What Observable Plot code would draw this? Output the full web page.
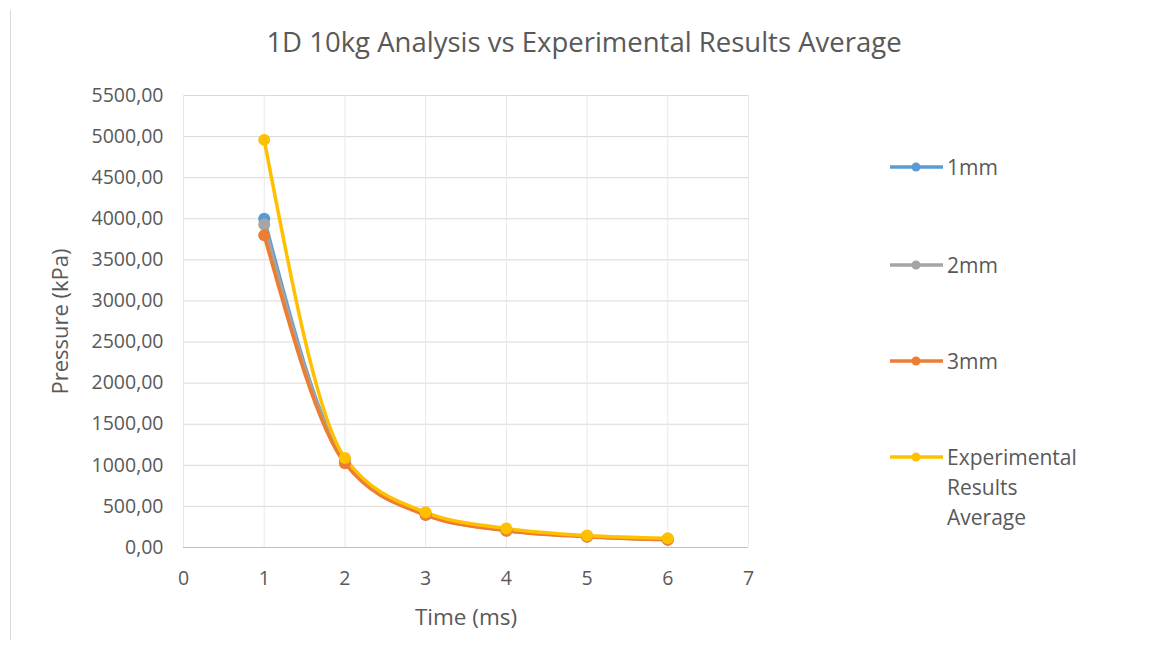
<!DOCTYPE html>
<html>
<head>
<meta charset="utf-8">
<script src="https://cdn.jsdelivr.net/npm/d3@7"></script>
<script src="https://cdn.jsdelivr.net/npm/@observablehq/plot@0.6"></script>
<style>
  html, body { margin: 0; padding: 0; background: #fff; }
  #wrap { position: relative; width: 1168px; height: 649px; overflow: hidden; font-family: "Open Sans", sans-serif; color: #595959; }
  #border { position: absolute; left: 10px; top: 10px; width: 0; height: 630px; border-left: 1px solid #d9d9d9; }
  #title { position: absolute; left: 0; top: 0; width: 1168px; height: 75px; text-align: center; font-size: 27.5px; line-height: 84px; }
  #chart { position: absolute; left: 0; top: 75px; }
  .leg { position: absolute; left: 890px; font-size: 21px; line-height: 30px; }
  .leg svg { position: absolute; left: 0; top: 0; }
  .leg span { position: absolute; left: 57px; top: 0; white-space: nowrap; }
</style>
</head>
<body>
<div id="wrap">
  <div id="border"></div>
  <div id="title">1D 10kg Analysis vs Experimental Results Average</div>
  <div id="chart"></div>
  <div id="legend"></div>
</div>
<script>
const times = [1, 2, 3, 4, 5, 6];
const series = ["1mm", "2mm", "3mm", "Experimental Results Average"];
const colors = ["#5b9bd5", "#a5a5a5", "#ed7d31", "#ffc000"];
const p1mm = [4000, 1060, 405, 212, 138, 98];
const p2mm = [3930, 1045, 400, 208, 135, 96];
const p3mm = [3800, 1025, 395, 205, 132, 94];
const pExp = [4960, 1090, 428, 232, 146, 113];
const yTicks = [0, 500, 1000, 1500, 2000, 2500, 3000, 3500, 4000, 4500, 5000, 5500];
const xTicks = [0, 1, 2, 3, 4, 5, 6, 7];

const values = [p1mm, p2mm, p3mm, pExp];
const data = [];
series.forEach((s, i) => times.forEach((t, j) => data.push({series: s, time: t, pressure: values[i][j]})));

const fmt = v => d3.format(".2f")(v).replace(".", ",");

const plot = Plot.plot({
  width: 1168,
  height: 574,
  marginLeft: 183,
  marginRight: 420,
  marginTop: 20,
  marginBottom: 102,
  style: {fontFamily: "Open Sans, sans-serif", fontSize: "19.5px", color: "#595959", background: "transparent"},
  x: {domain: [0, 7], ticks: xTicks, label: null},
  y: {domain: [0, 5500], ticks: yTicks, label: null},
  color: {domain: series, range: colors},
  marks: [
    Plot.gridY(yTicks, {stroke: "#d9d9d9", strokeOpacity: 1, strokeWidth: 1}),
    Plot.gridX(xTicks, {stroke: "#e8e8e8", strokeOpacity: 1, strokeWidth: 1}),
    Plot.ruleY([0], {stroke: "#bfbfbf", strokeWidth: 1}),
    Plot.axisY(yTicks, {tickSize: 0, tickPadding: 20, tickFormat: fmt, fill: "#595959", fontSize: 19.5, label: null}),
    Plot.axisX(xTicks, {tickSize: 0, tickPadding: 24, fill: "#595959", fontSize: 19.5, label: null}),
    Plot.line(data, {x: "time", y: "pressure", z: "series", stroke: "series", strokeWidth: 3.5, curve: "monotone-x"}),
    Plot.dot(data, {x: "time", y: "pressure", fill: "series", r: 6}),
    Plot.text(["Time (ms)"], {frameAnchor: "bottom", dy: 77, fontSize: 22.5, fill: "#595959"}),
    Plot.text(["Pressure (kPa)"], {frameAnchor: "left", textAnchor: "middle", dx: -123, rotate: -90, fontSize: 22, fill: "#595959"})
  ]
});
document.getElementById("chart").appendChild(plot);

const legTops = [152, 250, 346, 442];
const labels = ["1mm", "2mm", "3mm", "Experimental<br>Results<br>Average"];
const legend = document.getElementById("legend");
series.forEach((s, i) => {
  const d = document.createElement("div");
  d.className = "leg";
  d.style.top = legTops[i] + "px";
  d.innerHTML = `<svg width="56" height="30"><line x1="0" x2="53" y1="15" y2="15" stroke="${colors[i]}" stroke-width="3.5"/><circle cx="26" cy="15" r="4.5" fill="${colors[i]}"/></svg><span>${labels[i]}</span>`;
  legend.appendChild(d);
});
</script>
</body>
</html>
